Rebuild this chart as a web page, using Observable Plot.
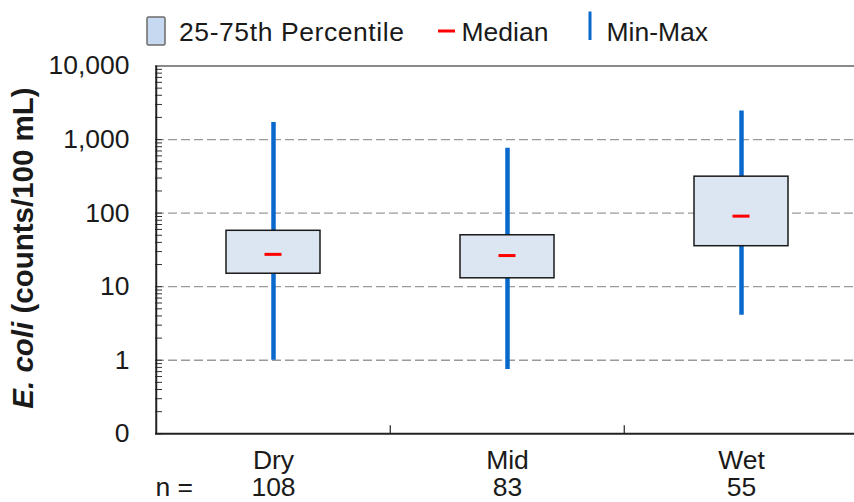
<!DOCTYPE html>
<html><head><meta charset="utf-8">
<script src="https://cdn.jsdelivr.net/npm/d3@7"></script>
<script src="https://cdn.jsdelivr.net/npm/@observablehq/plot@0.6"></script>
<style>
body{margin:0;background:#fff;font-family:"Liberation Sans",Arial,sans-serif}
svg{display:block}
</style>
</head><body><div id="legend"></div><div id="chart"></div>
<script>
// ---- data ----
const categories = ["Dry", "Mid", "Wet"];
const sampleCounts = [108, 83, 55];
const minValues = [1.0, 0.75, 4.1];
const q25Values = [15, 13, 35.5];
const medianValues = [27.5, 26.5, 91];
const q75Values = [57.5, 50, 313];
const maxValues = [1700, 760, 2450];
const yTickValues = [0.1, 1, 10, 100, 1000, 10000];
const yTickLabels = ["0", "1", "10", "100", "1,000", "10,000"];
const gridValues = [1, 10, 100, 1000];
const legendLabels = ["25-75th Percentile", "Median", "Min-Max"];

const rows = categories.map((c, i) => ({
  cat: c, n: sampleCounts[i], min: minValues[i], q1: q25Values[i],
  med: medianValues[i], q3: q75Values[i], max: maxValues[i]
}));

// log minor ticks (1..9 per decade)
const minorTicks = [];
for (const d of [0.1, 1, 10, 100, 1000]) for (let k = 1; k <= 9; k++) minorTicks.push(d * k);

const W = 854, legendH = 50, H = 452;
const mLeft = 155, xRight = 858.5, mTop = 15.5, mBottom = 68.7;
const step = (xRight - mLeft) / categories.length;
const font = "Liberation Sans, Arial, sans-serif";
const ink = "#1a1a1a";

// ---- legend ----
const lg = d3.select("#legend").append("svg").attr("width", W).attr("height", legendH)
  .attr("font-family", font).attr("font-size", 26.5).attr("fill", ink);
lg.append("rect").attr("x", 147).attr("y", 17).attr("width", 18).attr("height", 28)
  .attr("rx", 1.5).attr("fill", "#c6d9f1").attr("stroke", "#6b6b6b").attr("stroke-width", 1.5);
lg.append("text").attr("x", 179).attr("y", 40.5).attr("textLength", 225).attr("lengthAdjust", "spacing").text(legendLabels[0]);
lg.append("line").attr("x1", 438).attr("x2", 455).attr("y1", 31).attr("y2", 31)
  .attr("stroke", "#ff0000").attr("stroke-width", 3);
lg.append("text").attr("x", 461.5).attr("y", 40.5).text(legendLabels[1]);
lg.append("line").attr("x1", 590).attr("x2", 590).attr("y1", 11.5).attr("y2", 40)
  .attr("stroke", "#0868cc").attr("stroke-width", 3);
lg.append("text").attr("x", 606.5).attr("y", 40.5).text(legendLabels[2]);

// ---- chart ----
const chart = Plot.plot({
  width: W, height: H,
  marginLeft: mLeft, marginRight: 0, marginTop: mTop, marginBottom: mBottom,
  style: {fontFamily: font, fontSize: "26.5px", color: ink, background: "#fff"},
  x: {domain: categories, range: [mLeft, xRight], paddingInner: 0.6, paddingOuter: 0.3, axis: null},
  y: {type: "log", domain: [0.1, 10000], axis: null},
  marks: [
    Plot.ruleY(gridValues, {stroke: "#9a9a9a", strokeWidth: 1.3, strokeDasharray: "9,4"}),
    Plot.ruleY([10000], {stroke: "#8a8a8a", strokeWidth: 2}),
    Plot.ruleY(minorTicks, {stroke: "#333", strokeWidth: 1, insetRight: W - mLeft - 7}),
    Plot.ruleX(categories.slice(1), {dx: -step / 2, insetTop: (H - mTop - mBottom) - 8, stroke: "#222", strokeWidth: 1.2}),
    Plot.ruleX([categories[0]], {dx: -step / 2, stroke: "#222", strokeWidth: 2}),
    Plot.ruleY([0.1], {stroke: "#222", strokeWidth: 2}),
    Plot.ruleX(rows, {x: "cat", y1: "min", y2: "max", stroke: "#0868cc", strokeWidth: 4.5}),
    Plot.barY(rows, {x: "cat", y1: "q1", y2: "q3", fill: "#dce6f2", stroke: ink, strokeWidth: 1.5}),
    Plot.tickY(rows, {x: "cat", y: "med", stroke: "#ff0000", strokeWidth: 3, insetLeft: 38.5, insetRight: 38.5}),
    Plot.text(yTickValues, {y: d => d, text: (d, i) => yTickLabels[i], frameAnchor: "left", textAnchor: "end", dx: -26, fill: ink}),
    Plot.text(categories, {x: d => d, text: d => d, frameAnchor: "bottom", lineAnchor: "top", dy: 16, fill: ink}),
    Plot.text(rows, {x: "cat", text: d => String(d.n), frameAnchor: "bottom", lineAnchor: "top", dy: 43.5, fill: ink}),
    Plot.text(["n ="], {frameAnchor: "bottom-left", textAnchor: "start", lineAnchor: "top", dy: 43.5, fill: ink})
  ]
});
document.getElementById("chart").append(chart);

// y-axis title with italic species name
const yTitle = d3.select(chart).append("text")
  .attr("transform", `translate(33, ${248 - legendH}) rotate(-90)`)
  .attr("text-anchor", "middle").attr("font-family", font)
  .attr("font-weight", "bold").attr("font-size", 29.5).attr("fill", ink);
yTitle.append("tspan").attr("font-style", "italic").text("E. coli");
yTitle.append("tspan").text(" (counts/100 mL)");
</script>
</body></html>
